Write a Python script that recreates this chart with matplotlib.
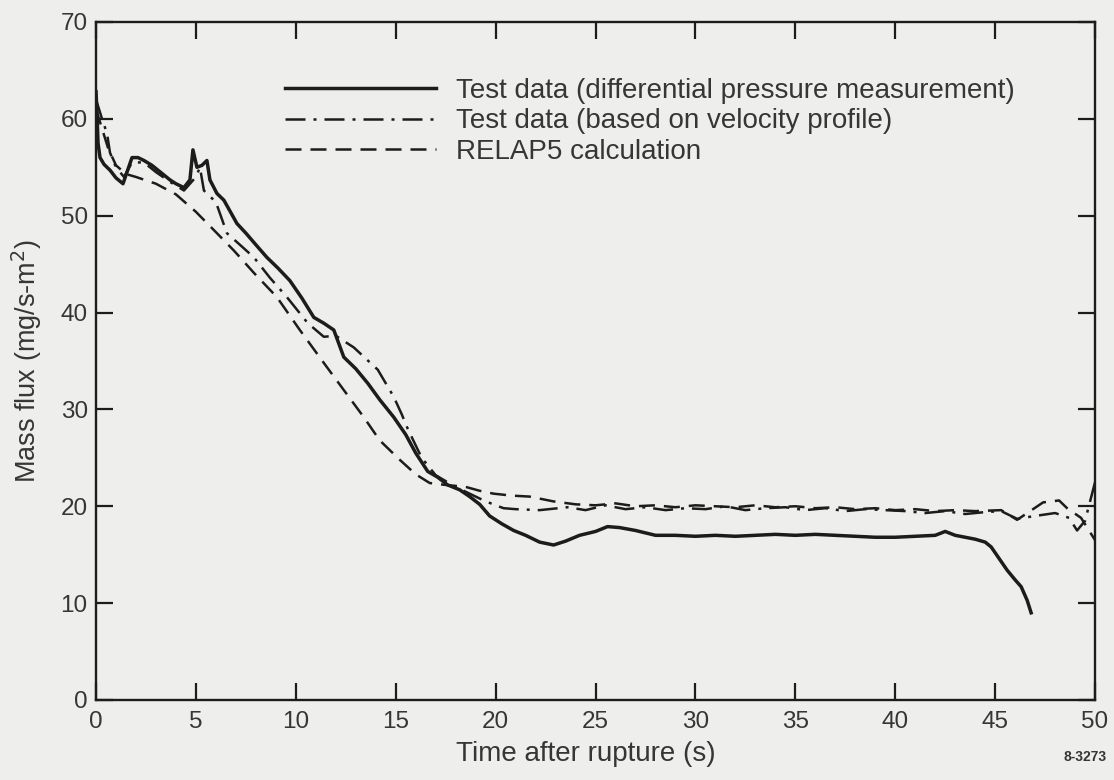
import matplotlib
matplotlib.use("Agg")
import matplotlib.pyplot as plt

# Differential pressure measurement (solid)
t_dp = [0.0, 0.05, 0.1, 0.2, 0.4, 0.7, 1.0, 1.35, 1.6, 1.8, 2.1, 2.4, 2.8, 3.1,
        3.4, 3.7, 4.0, 4.4, 4.7, 4.85, 5.05, 5.3, 5.55, 5.7, 6.05, 6.4, 7.05, 7.5,
        8.0, 8.55, 9.1, 9.7, 10.3, 10.9, 11.4, 11.9, 12.4, 13.0, 13.6, 14.2, 14.9,
        15.5, 16.0, 16.6, 17.1, 17.6, 18.2, 18.7, 19.2, 19.7, 20.3, 20.9, 21.5,
        22.2, 22.9, 23.5, 24.2, 25.0, 25.6, 26.2, 27.0, 28.0, 29.0, 30.0, 31.0,
        32.0, 33.0, 34.0, 35.0, 36.0, 37.0, 38.0, 39.0, 40.0, 41.0, 42.0, 42.5,
        43.0, 43.5, 44.0, 44.5, 44.8, 45.2, 45.6, 46.0, 46.3, 46.6, 46.8]
m_dp = [62.8, 60.5, 57.5, 56.0, 55.3, 54.7, 53.9, 53.3, 54.8, 56.0, 56.0, 55.7,
        55.2, 54.7, 54.2, 53.7, 53.3, 52.9, 53.7, 56.8, 55.0, 55.2, 55.7, 53.7,
        52.3, 51.6, 49.2, 48.2, 47.0, 45.7, 44.6, 43.3, 41.5, 39.5, 38.9, 38.2,
        35.4, 34.2, 32.7, 31.0, 29.2, 27.4, 25.5, 23.6, 23.0, 22.2, 21.7, 21.0,
        20.2, 19.0, 18.2, 17.5, 17.0, 16.3, 16.0, 16.4, 17.0, 17.4, 17.9, 17.8,
        17.5, 17.0, 17.0, 16.9, 17.0, 16.9, 17.0, 17.1, 17.0, 17.1, 17.0, 16.9,
        16.8, 16.8, 16.9, 17.0, 17.4, 17.0, 16.8, 16.6, 16.3, 15.8, 14.6, 13.4,
        12.4, 11.7, 10.3, 9.0]

# Velocity-profile based data (dash-dot)
t_vp = [0.0, 0.3, 0.55, 0.7, 1.0, 1.4, 1.8, 2.4, 3.0, 3.7, 4.4, 5.0, 5.2, 5.4,
        6.0, 6.55, 7.2, 7.9, 8.7, 9.55, 10.6, 11.4, 12.0, 12.9, 14.1, 14.9, 15.3,
        15.6, 16.3, 17.0, 18.0, 18.8, 19.4, 20.0, 20.4, 21.0, 22.2, 23.6, 24.5,
        25.5, 26.5, 27.5, 28.5, 29.5, 30.5, 31.5, 32.5, 33.5, 34.5, 35.5, 36.5,
        37.5, 38.5, 39.5, 40.5, 41.5, 42.5, 43.5, 44.5, 45.3, 46.1, 47.0, 48.0,
        48.7, 49.1, 49.5, 50.0]
m_vp = [62.0, 60.0, 58.5, 56.5, 55.0, 54.0, 55.5, 55.5, 54.5, 53.5, 52.6, 54.0,
        55.0, 52.6, 51.4, 48.2, 47.0, 45.7, 43.6, 41.6, 38.9, 37.5, 37.6, 36.4,
        34.1, 31.3, 29.5, 28.0, 25.0, 23.2, 22.0, 21.2, 20.6, 20.1, 19.8, 19.7,
        19.6, 19.9, 19.6, 20.1, 19.7, 19.9, 19.6, 19.8, 19.7, 20.0, 19.6, 19.8,
        19.9, 19.6, 19.8, 19.5, 19.7, 19.6, 19.5, 19.3, 19.5, 19.2, 19.4, 19.5,
        18.7, 19.0, 19.3, 18.8, 17.5, 18.5, 22.5]

# RELAP5 calculation (dashed)
t_rl = [0.0, 0.3, 0.6, 1.0, 1.5, 2.0, 3.0, 4.0, 5.0, 6.0, 6.9, 7.9, 9.05, 10.2,
        11.4, 12.4, 13.4, 14.2, 15.2, 16.0, 16.7, 17.5, 18.5, 19.2, 19.9, 20.8,
        21.7, 22.9, 24.0, 25.0, 26.0, 27.0, 28.0, 29.0, 30.0, 31.0, 32.0, 33.0,
        34.0, 35.0, 36.0, 37.0, 38.0, 39.0, 40.0, 41.0, 42.0, 43.0, 44.0, 45.3,
        46.1, 47.4, 48.2, 48.6, 49.3, 50.0]
m_rl = [61.0, 59.0, 57.0, 55.2, 54.3, 54.0, 53.3, 52.2, 50.4, 48.3, 46.4, 44.1,
        41.6, 38.2, 34.8, 32.0, 29.2, 26.8, 24.8, 23.3, 22.4, 22.2, 22.0, 21.6,
        21.3, 21.1, 21.0, 20.5, 20.2, 20.1, 20.3, 20.0, 20.1, 19.9, 20.1, 20.0,
        19.9, 20.1, 19.9, 20.0, 19.8, 19.9, 19.7, 19.8, 19.6, 19.7, 19.5, 19.6,
        19.5, 19.6, 18.6, 20.4, 20.6, 19.8, 18.8, 16.5]

labels = ["Test data (differential pressure measurement)",
          "Test data (based on velocity profile)",
          "RELAP5 calculation"]

x_ticks = [0, 5, 10, 15, 20, 25, 30, 35, 40, 45, 50]
y_ticks = [0, 10, 20, 30, 40, 50, 60, 70]

ink = "#1c1c1c"
text_ink = "#363636"
paper = "#eeeeec"

plt.rcParams["font.family"] = ["Liberation Sans", "DejaVu Sans"]

fig = plt.figure(figsize=(11.14, 7.8), dpi=100, facecolor=paper)
ax = fig.add_axes([0.0862, 0.1026, 0.8968, 0.8692])
ax.set_facecolor(paper)

ax.plot(t_dp, m_dp, color=ink, lw=2.5, solid_joinstyle="round", label=labels[0])
ax.plot(t_vp, m_vp, color=ink, lw=1.8, dashes=(8, 3.2, 1.2, 3.2), label=labels[1])
ax.plot(t_rl, m_rl, color=ink, lw=1.8, dashes=(6.4, 3.6), label=labels[2])

ax.set_xlim(0, 50)
ax.set_ylim(0, 70)
ax.set_xticks(x_ticks)
ax.set_yticks(y_ticks)

for s in ax.spines.values():
    s.set_linewidth(1.7)
    s.set_color(ink)

ax.tick_params(direction="in", length=12, width=1.6, color=ink,
               top=True, right=True, labelsize=17.5, labelcolor=text_ink)
ax.tick_params(axis="x", pad=8)
ax.tick_params(axis="y", pad=6)

ax.set_xlabel("Time after rupture (s)", fontsize=20, color=text_ink)
ax.xaxis.set_label_coords(0.49, -0.061)
ax.set_ylabel("Mass flux (mg/s-m$^2$)", fontsize=19.5, color=text_ink)
ax.yaxis.set_label_coords(-0.052, 0.5)

leg = ax.legend(loc="upper left", bbox_to_anchor=(0.189, 0.918), frameon=False,
                fontsize=20, handlelength=5.45, handletextpad=0.7,
                labelspacing=0.17, borderpad=0, borderaxespad=0)
for txt in leg.get_texts():
    txt.set_color(text_ink)

fig.text(0.993, 0.030, "8-3273", fontsize=10, fontweight="bold",
         color=text_ink, ha="right", va="center")

fig.savefig("out.png", dpi=100, facecolor=paper)
